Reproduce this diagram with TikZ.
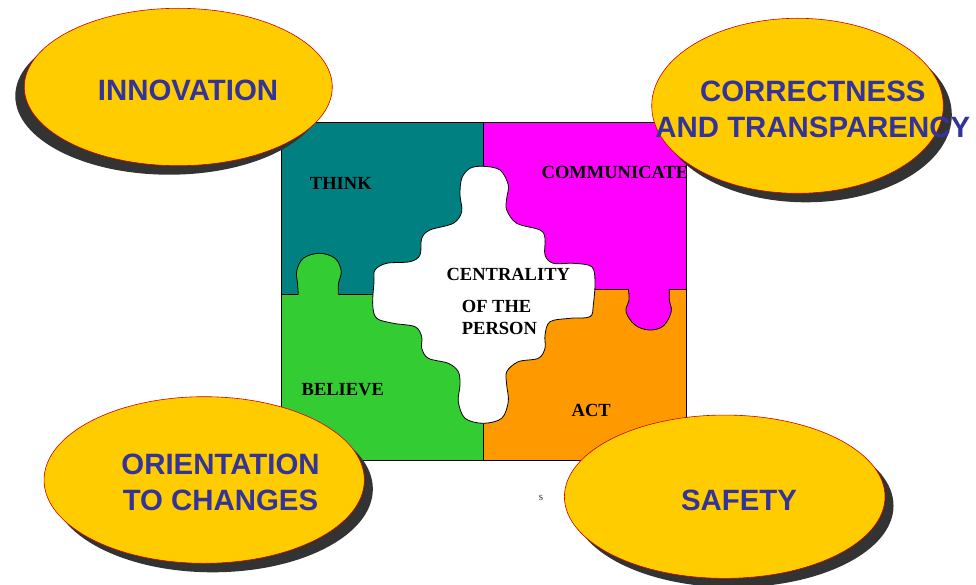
\documentclass[tikz,border=0pt]{standalone}
\usepackage{fontspec}
\setmainfont{Liberation Serif}
\setsansfont{Liberation Sans}
\usetikzlibrary{shapes.geometric,shadows}
\definecolor{thinkteal}{HTML}{008080}
\definecolor{commmagenta}{HTML}{FF00FF}
\definecolor{believegreen}{HTML}{33CC33}
\definecolor{actorange}{HTML}{FF9900}
\definecolor{valueyellow}{HTML}{FFCC00}
\definecolor{valueblue}{HTML}{333399}
\definecolor{valuered}{HTML}{CC0000}
\definecolor{shadowgray}{HTML}{333333}
\begin{document}
\begin{tikzpicture}[x=1pt,y=-1pt,
    piece/.style={draw=black,line width=0.8pt},
    word/.style={font=\fontsize{18.5pt}{20pt}\selectfont\bfseries},
    value/.style={ellipse,draw=valuered,line width=0.6pt,fill=valueyellow,inner sep=0pt},
    valuetext/.style={font=\fontsize{29.4pt}{35.6pt}\selectfont\sffamily\bfseries,text=valueblue,align=center,inner sep=0pt},
    shadowright/.style={drop shadow={shadow xshift=8.5pt,shadow yshift=-9pt,fill=shadowgray,opacity=1}},
    shadowleft/.style={drop shadow={shadow xshift=-9pt,shadow yshift=-9pt,fill=shadowgray,opacity=1}}]
\useasboundingbox (0,0) rectangle (976,585);
\fill[thinkteal] (281,122.7) rectangle (483.3,294);
\fill[commmagenta] (483.3,122.7) rectangle (686.7,289);
\fill[believegreen] (281,294) rectangle (483.3,460);
\fill[actorange] (483.3,289) rectangle (686.7,460);
\draw[piece] (281,122.7) rectangle (686.7,460);
\draw[piece] (483.3,122.7) -- (483.3,460);
\draw[piece] (281,294) -- (483.3,294);
\draw[piece] (483.3,289) -- (686.7,289);
\fill[believegreen] (298.3,296) -- plot[smooth,tension=0.6] coordinates {(298.3,294) (297.5,283) (296.7,271) (303.3,258.3) (319.3,253.3) (335,258.3) (341.2,271) (338.5,283.3) (338.3,294)} -- (338.3,296) -- cycle;
\draw[piece] plot[smooth,tension=0.6] coordinates {(298.3,294) (297.5,283) (296.7,271) (303.3,258.3) (319.3,253.3) (335,258.3) (341.2,271) (338.5,283.3) (338.3,294)};
\fill[commmagenta] (628.3,287) -- plot[smooth,tension=0.6] coordinates {(628.3,289) (629,300) (626,311.7) (635,325) (649.3,330) (663.3,326) (671.2,311.7) (669.3,300) (669.3,289)} -- (669.3,287) -- cycle;
\draw[piece] plot[smooth,tension=0.6] coordinates {(628.3,289) (629,300) (626,311.7) (635,325) (649.3,330) (663.3,326) (671.2,311.7) (669.3,300) (669.3,289)};
\filldraw[piece,fill=white] plot[smooth cycle,tension=0.55] coordinates {
    (483.3,166.3) (500,170) (508.3,185) (506.7,198.3) (506.7,210) (516.7,223.3) (540,230) (545,238.3) (545,255) (553.3,263.3)
    (573.3,263.3) (591.7,266.7) (595,281.7) (593.3,305) (590,316.7) (570,318.3) (550,321.7) (545,335) (545,348.3) (538.3,358.3)
    (518.3,361.7) (506.7,371.7) (506.7,385) (508.3,401.7) (501.7,418.3) (483.3,423.3) (465,418.3) (458.3,401.7) (460,385) (458.3,371.7)
    (448.3,363.3) (428.3,358.3) (421.7,348.3) (421.7,336.7) (415,326.7) (393.3,323.3) (376.7,318.3) (372.7,305) (374,281.7) (375,270)
    (386.7,263.3) (410,261.7) (420,255) (421.7,238.3) (430,230) (453.3,223.3) (461.7,211.7) (460,195) (461.7,178.3) (470,168.3)};
\node[word] (think) at (340.8,183.3) {THINK};
\node[word] (communicate) at (615,172.7) {COMMUNICATE};
\node[word] (believe) at (342.8,389.3) {BELIEVE};
\node[word] (act) at (591.2,410.7) {ACT};
\node[word] (centrality) at (508.3,274.3) {CENTRALITY};
\node[word,anchor=west,inner sep=0pt] (ofthe) at (461.7,306) {OF THE};
\node[word,anchor=west,inner sep=0pt] (person) at (461.7,328.3) {PERSON};
\node[font=\fontsize{11pt}{12pt}\selectfont,text=black!80] (mark) at (541,498) {s};
\node[value,shadowleft,minimum width=308pt,minimum height=157.4pt] (innovation) at (178.3,87) {};
\node[value,shadowright,minimum width=291.6pt,minimum height=175pt] (correctness) at (797.5,105.8) {};
\node[value,shadowright,minimum width=320.3pt,minimum height=166.6pt] (orientation) at (204.2,480) {};
\node[value,shadowright,minimum width=320.6pt,minimum height=163.3pt] (safety) at (724.7,496.7) {};
\node[valuetext] (innovationtext) at (188,90) {INNOVATION};
\node[valuetext] (correctnesstext) at (812.8,109.5) {CORRECTNESS\\AND TRANSPARENCY};
\node[valuetext] (orientationtext) at (220.5,482.5) {ORIENTATION\\TO CHANGES};
\node[valuetext] (safetytext) at (739,500) {SAFETY};
\end{tikzpicture}
\end{document}
